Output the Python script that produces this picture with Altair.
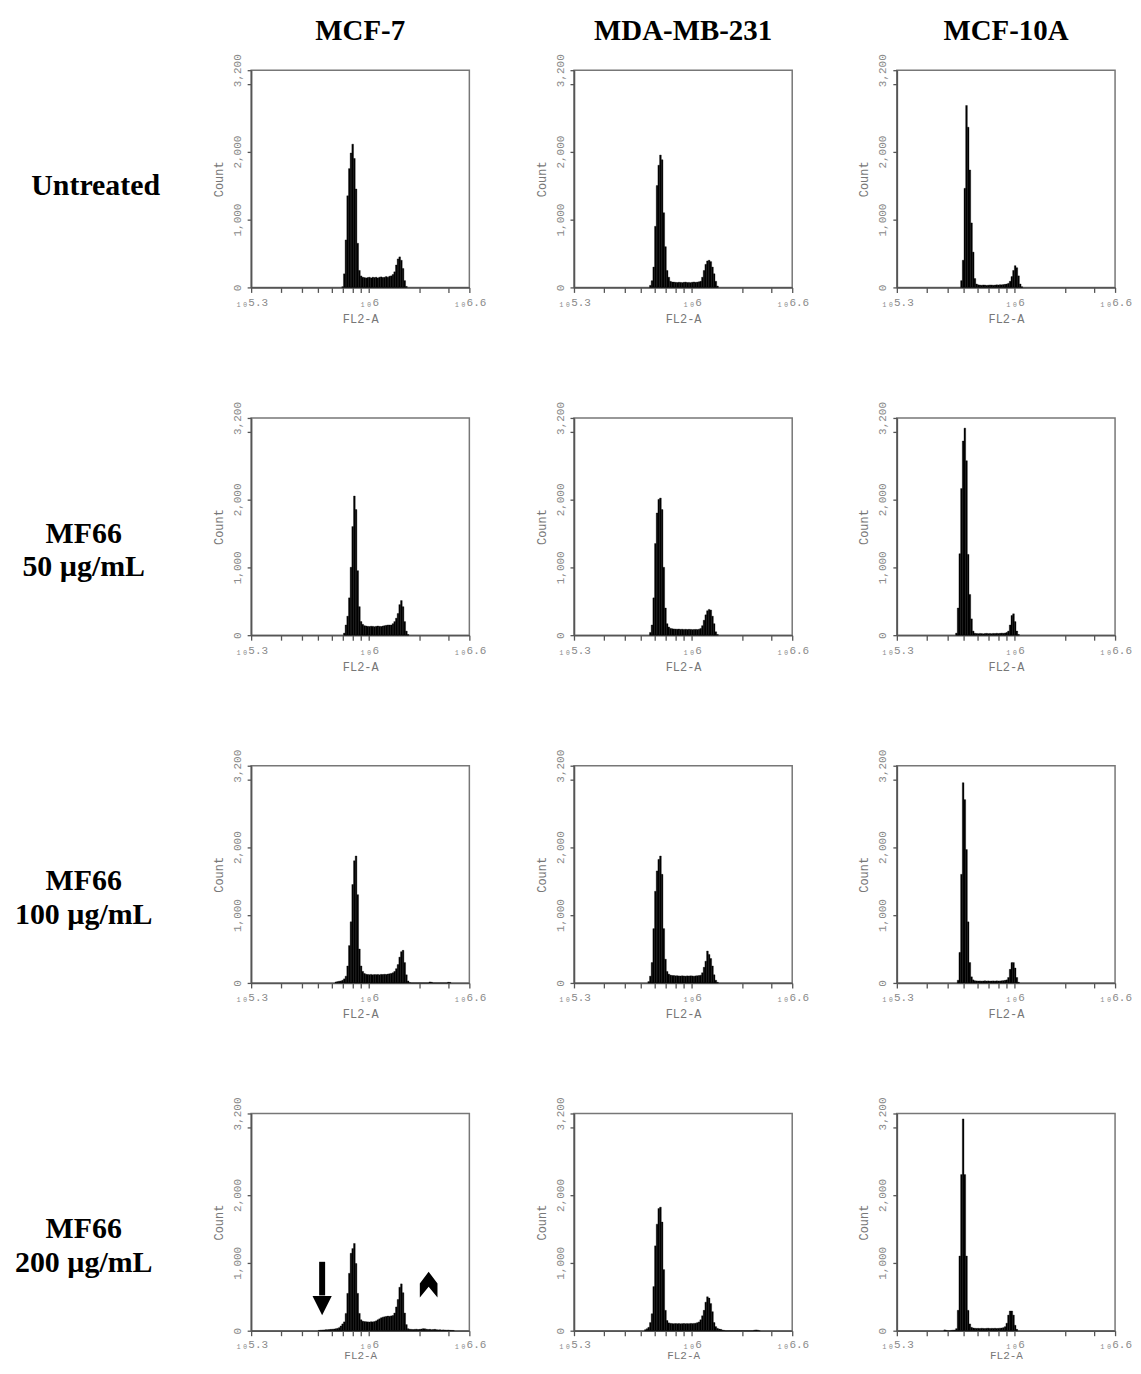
import altair as alt
import pandas as pd

CELL_LINES = ["MCF-7", "MDA-MB-231", "MCF-10A"]
TREATMENTS = [["Untreated"], ["MF66", "50 µg/mL"], ["MF66", "100 µg/mL"], ["MF66", "200 µg/mL"]]

X_MIN_EXP, X_MAX_EXP = 5.3, 6.6
Y_MAX = 3200
CHANNEL = 0.01  # width of one histogram channel, in decades of FL2-A

X_TICKS = [10 ** 5.3, 3e5, 4e5, 5e5, 6e5, 7e5, 8e5, 9e5, 1e6, 2e6, 3e6, 10 ** 6.6]
Y_TICKS = [0, 1000, 2000, 3000, 3200]

# ---------------- histogram counts (first channel given by *_START, log10 units) ----------------
MCF7_UNTREATED_START = 5.84
MCF7_UNTREATED = [10, 200, 700, 1350, 1750, 1980, 2110, 1900, 1450, 650, 250, 170, 150, 145, 140,
                  145, 150, 140, 150, 145, 150, 140, 150, 155, 145, 150, 160, 150, 165, 170, 190,
                  230, 330, 420, 450, 400, 280, 100, 15]

MDA_UNTREATED_START = 5.75
MDA_UNTREATED = [30, 100, 300, 900, 1500, 1800, 1950, 1880, 1100, 600, 250, 150, 90, 80,
                 78, 75, 72, 76, 74, 70, 75, 78, 72, 74, 70, 76, 80, 75, 78, 82,
                 90, 150, 250, 340, 390, 400, 380, 300, 200, 90, 20]

MCF10A_UNTREATED_START = 5.68
MCF10A_UNTREATED = [100, 400, 1460, 2680, 2360, 1730, 950, 520, 130, 50,
                    38, 35, 32, 36, 34, 30, 33, 36, 35, 32, 34, 38, 36, 40, 38, 42, 45, 50,
                    60, 90, 160, 250, 320, 290, 170, 50, 10]

MCF7_50_START = 5.85
MCF7_50 = [30, 150, 280, 550, 1000, 1600, 2050, 1850, 950, 420, 200, 160,
           140, 135, 130, 128, 132, 130, 125, 130, 135, 130, 128, 135, 140, 145, 150, 150,
           150, 170, 200, 250, 320, 450, 510, 420, 200, 60, 10]

MDA_50_START = 5.75
MDA_50 = [40, 150, 550, 1350, 1800, 2000, 2020, 1850, 1000, 400, 170, 120, 100,
          95, 92, 90, 88, 90, 86, 88, 85, 87, 84, 86, 85, 82, 84, 85, 83, 88,
          100, 140, 220, 300, 360, 380, 370, 280, 170, 50, 10]

MCF10A_50_START = 5.65
MCF10A_50 = [30, 400, 1200, 2160, 2860, 3050, 2570, 1190, 600, 240, 60,
             28, 25, 22, 26, 24, 20, 25, 27, 23, 25, 22, 26, 24, 28, 25, 27, 30, 28, 32, 40,
             60, 150, 290, 315, 200, 60, 10]

MCF7_100_START = 5.80
MCF7_100 = [15, 20, 25, 30, 40, 60, 100, 250, 550, 900, 1450, 1800, 1870, 1300, 500, 250, 170, 140,
            128, 125, 122, 126, 120, 124, 122, 125, 120, 126, 124, 128, 125, 130, 135,
            140, 150, 170, 210, 270, 380, 460, 480, 300, 120, 30, 5,
            0, 0, 0, 0, 0, 0, 0, 0, 0, 0, 0, 15, 10, 0, 0, 0, 0, 0, 0, 0, 0, 0, 10, 8]

MDA_100_START = 5.74
MDA_100 = [20, 100, 300, 800, 1350, 1650, 1820, 1870, 1600, 800, 350, 170, 130, 115,
           110, 108, 105, 106, 104, 102, 105, 103, 100, 104, 102, 105, 103, 100, 104, 106, 108, 115,
           150, 230, 320, 470, 420, 360, 250, 120, 40, 10]

MCF10A_100_START = 5.66
MCF10A_100 = [40, 450, 1600, 2950, 2700, 1965, 900, 300, 90, 45,
              32, 30, 28, 30, 27, 29, 31, 28, 30, 27, 29, 30, 28, 31, 29, 30, 32, 34, 38, 45,
              80, 200, 300, 300, 220, 80, 10]

MCF7_200_START = 5.70
MCF7_200 = [5, 8, 10, 12, 15, 15, 18, 20, 22, 25, 30, 35, 45, 70, 100, 130, 255, 550, 845, 1140,
            1210, 1285, 990, 550, 255, 160, 140, 135,
            132, 130, 128, 132, 130, 135, 145, 160, 175, 190, 200, 205, 210, 215, 212, 218, 225,
            260, 350, 460, 640, 690, 560, 260, 90, 30, 22,
            20, 18, 20, 22, 18, 20, 25, 30, 28, 22, 18, 20, 15, 18, 20, 15, 12, 15, 10, 12, 10,
            8, 10, 6, 5, 4]

MDA_200_START = 5.72
MDA_200 = [15, 30, 50, 120, 250, 650, 1250, 1570, 1800, 1820, 1600, 900, 300, 150, 115,
           108, 105, 104, 106, 103, 105, 102, 104, 106, 103, 105, 104, 107, 105, 108, 110, 118,
           130, 160, 220, 300, 420, 500, 480, 400, 280, 120, 60, 35, 25, 20, 10,
           5, 0, 0, 0, 0, 0, 0, 0, 0, 0, 0, 0, 0, 0, 0, 0, 0, 0, 8, 12, 8, 0]

MCF10A_200_START = 5.58
MCF10A_200 = [12, 5, 0, 0, 5, 8, 10,
              30, 300, 1100, 2300, 3120, 2300, 1100, 300, 100, 50, 40,
              36, 34, 35, 33, 36, 34, 32, 35, 37, 33, 35, 34, 36, 33, 35, 38, 40, 45, 60,
              110, 230, 290, 290, 230, 80, 20]

PANELS = {
    (0, 0): (MCF7_UNTREATED_START, MCF7_UNTREATED),
    (0, 1): (MDA_UNTREATED_START, MDA_UNTREATED),
    (0, 2): (MCF10A_UNTREATED_START, MCF10A_UNTREATED),
    (1, 0): (MCF7_50_START, MCF7_50),
    (1, 1): (MDA_50_START, MDA_50),
    (1, 2): (MCF10A_50_START, MCF10A_50),
    (2, 0): (MCF7_100_START, MCF7_100),
    (2, 1): (MDA_100_START, MDA_100),
    (2, 2): (MCF10A_100_START, MCF10A_100),
    (3, 0): (MCF7_200_START, MCF7_200),
    (3, 1): (MDA_200_START, MDA_200),
    (3, 2): (MCF10A_200_START, MCF10A_200),
}

# annotation markers in the MCF-7 / 200 µg/mL panel (log10 FL2-A, count)
ARROW_EXP = 5.723
ARROW_TOP, ARROW_SHAFT_END, ARROW_HEAD = 1015, 520, 370
CHEVRON_EXP, CHEVRON_COUNT = 6.3575, 679

PANEL_W, PANEL_H = 219, 218
MONO = "Liberation Mono, DejaVu Sans Mono, monospace"
SERIF = "Liberation Serif, Times New Roman, serif"
AXIS_GRAY = "#555555"
LABEL_GRAY = "#8a8a8a"


def hist_frame(start, counts):
    lo_exp = [round(start + i * CHANNEL, 4) for i in range(len(counts))]
    return pd.DataFrame({
        "lo": [10 ** e for e in lo_exp],
        "hi": [10 ** (e + CHANNEL) for e in lo_exp],
        "count": counts,
    })


x_scale = alt.Scale(type="log", domain=[10 ** X_MIN_EXP, 10 ** X_MAX_EXP], nice=False)
y_scale = alt.Scale(domain=[0, Y_MAX], nice=False)

X_LABEL_EXPR = ("datum.value < 210000 ? '₁₀5.3' : datum.value == 1000000 ? '₁₀6' : "
                "datum.value > 3900000 ? '₁₀6.6' : ''")


def make_x_axis(compact):
    common = dict(
        values=X_TICKS, labelExpr=X_LABEL_EXPR,
        labelFlush=False, labelOverlap=False, grid=False,
        tickSize=5, tickColor=AXIS_GRAY, tickWidth=1.3,
        domainColor=AXIS_GRAY, domainWidth=1.6,
        labelFont=MONO, labelFontSize=11, labelColor=LABEL_GRAY,
        titleFont=MONO, titleFontWeight="normal", titleColor="#777777",
    )
    if compact:
        # bottom row: a little tighter so the page stays inside the window height
        return alt.Axis(labelPadding=3, titlePadding=0, titleFontSize=11, **common)
    return alt.Axis(labelPadding=4, titlePadding=6, titleFontSize=12, **common)


y_axis = alt.Axis(
    values=Y_TICKS,
    labelExpr="datum.value == 3000 ? '' : format(datum.value, ',')",
    labelAngle=-90, labelAlign="center", labelBaseline="bottom",
    labelFlush=False, labelOverlap=False, grid=False,
    tickSize=4, tickColor=AXIS_GRAY, tickWidth=1.3,
    domainColor=AXIS_GRAY, domainWidth=1.6,
    labelFont=MONO, labelFontSize=11, labelColor=LABEL_GRAY, labelPadding=5,
    titleFont=MONO, titleFontSize=12, titleFontWeight="normal", titleColor="#777777", titlePadding=6,
)


def panel(r, c):
    start, counts = PANELS[(r, c)]
    df = hist_frame(start, counts)
    layers = [
        alt.Chart(df).mark_rect(color="black", stroke="black", strokeWidth=0.35).encode(
            x=alt.X("lo:Q", scale=x_scale, axis=make_x_axis(r == 3), title="FL2-A"),
            x2="hi:Q",
            y=alt.Y("count:Q", scale=y_scale, axis=y_axis, title="Count"),
            y2=alt.datum(0),
        )
    ]
    if r == 0:
        layers.append(
            alt.Chart(pd.DataFrame({"t": [CELL_LINES[c]]})).mark_text(
                font=SERIF, fontSize=29, fontWeight="bold", color="black",
                align="center", baseline="middle",
            ).encode(x=alt.value(PANEL_W / 2), y=alt.value(-39), text="t:N")
        )
    if c == 0:
        lines = TREATMENTS[r]
        layers.append(
            alt.Chart(pd.DataFrame({"k": [0]})).mark_text(
                text=lines, font=SERIF, fontSize=30, fontWeight="bold", color="black",
                align="center", baseline="middle", lineHeight=34,
            ).encode(x=alt.value(-156 if len(lines) == 1 else -168), y=alt.value(116))
        )
    if (r, c) == (0, 0):
        # invisible anchor fixing the top-left page offset of the grid
        layers.append(
            alt.Chart(pd.DataFrame({"k": [0]})).mark_rule(strokeOpacity=0).encode(
                x=alt.value(-242.5), x2=alt.value(-242.5), y=alt.value(-58.5), y2=alt.value(-58.5)
            )
        )
    if (r, c) == (3, 0):
        arrow = pd.DataFrame({"x": [10 ** ARROW_EXP], "top": [ARROW_TOP], "end": [ARROW_SHAFT_END],
                              "head": [ARROW_HEAD]})
        layers.append(
            alt.Chart(arrow).mark_rule(color="black", strokeWidth=6).encode(
                x=alt.X("x:Q", scale=x_scale), y=alt.Y("top:Q", scale=y_scale), y2="end:Q")
        )
        layers.append(
            alt.Chart(arrow).mark_point(shape="M-1,-1L1,-1L0,1Z", filled=True, opacity=1,
                                        color="black", size=372).encode(
                x=alt.X("x:Q", scale=x_scale), y=alt.Y("head:Q", scale=y_scale))
        )
        chev = pd.DataFrame({"x": [10 ** CHEVRON_EXP], "y": [CHEVRON_COUNT]})
        layers.append(
            alt.Chart(chev).mark_point(
                shape="M0,-1L0.69,-0.09L0.69,1L0,0.17L-0.69,1L-0.69,-0.09Z",
                filled=True, opacity=1, color="black", size=660).encode(
                x=alt.X("x:Q", scale=x_scale), y=alt.Y("y:Q", scale=y_scale))
        )
    return alt.layer(*layers).properties(width=PANEL_W, height=PANEL_H)


charts = [panel(r, c) for r in range(4) for c in range(3)]

chart = alt.concat(
    *charts, columns=3, spacing={"row": 131, "column": 105}, bounds="flush"
).properties(
    padding={"left": 0, "top": 0, "right": 0, "bottom": 0},
    background="white",
).configure_view(
    stroke="#777777", strokeWidth=1.5
)

chart.save("out.html", embed_options={"renderer": "svg", "actions": False})
